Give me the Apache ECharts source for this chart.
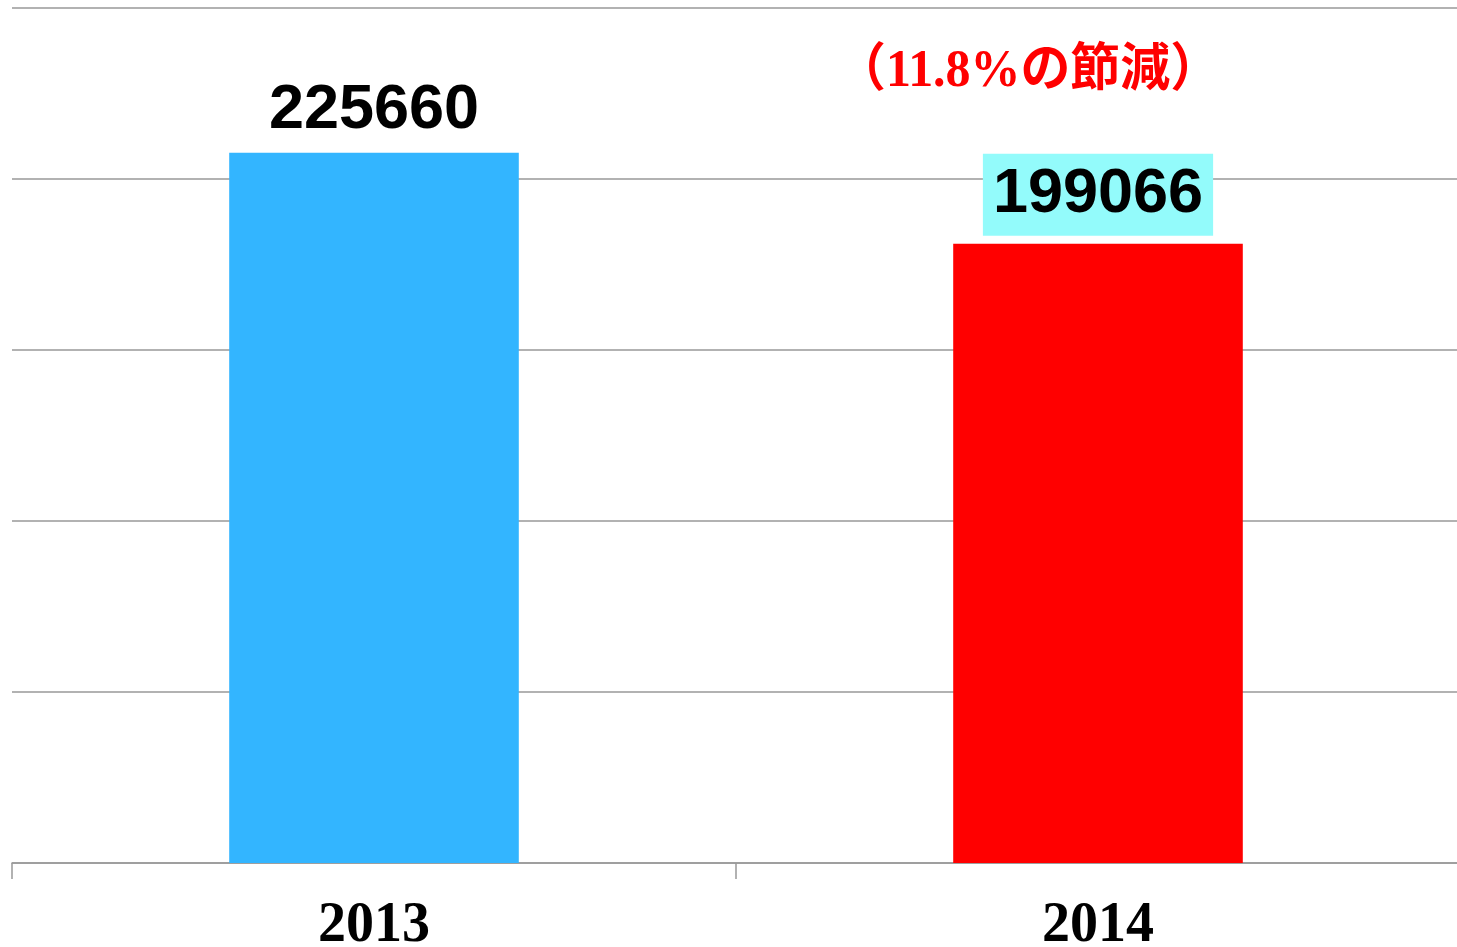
<!DOCTYPE html>
<html>
<head>
<meta charset="utf-8">
<script src="https://cdn.jsdelivr.net/npm/echarts@6/dist/echarts.min.js"></script>
<style>
    html, body { margin: 0; padding: 0; background: #fff; }
    #mychart { width: 1457px; height: 947px; }
</style>
</head>
<body>
<div id="mychart"></div>
<script>
    var years = ['2013', '2014']
    var totals = [225660, 199066]
    var barColors = ['#33b5ff', '#ff0000']
    var note = '（11.8%の節減）'

    var myChart = echarts.init(document.getElementById('mychart'))

    var option = {
        animation: false,
        grid: {
            left: 12,
            right: -3,
            top: 8,
            bottom: 84,
            containLabel: false,
            outerBoundsMode: 'none'
        },
        xAxis: {
            type: 'category',
            data: years,
            axisLine: {
                lineStyle: { color: '#999', width: 1.5 }
            },
            axisTick: {
                show: true,
                length: 16,
                lineStyle: { color: '#999', width: 1.5 }
            },
            axisLabel: {
                margin: 36,
                color: '#000',
                fontFamily: 'Liberation Serif',
                fontWeight: 'bold',
                fontSize: 56
            }
        },
        yAxis: {
            type: 'value',
            min: 18000,
            max: 268000,
            interval: 50000,
            axisLine: { show: false },
            axisTick: { show: false },
            axisLabel: { show: false },
            splitLine: {
                lineStyle: { color: '#999', width: 1.5 }
            }
        },
        graphic: [
            {
                type: 'text',
                x: 836,
                y: 47,
                scaleX: 0.96,
                style: {
                    text: note,
                    fill: '#ff0000',
                    font: 'bold 52px "Liberation Serif", "Noto Sans CJK JP"'
                }
            }
        ],
        series: [
            {
                type: 'bar',
                barWidth: '40%',
                data: totals.map(function (v, i) {
                    var item = {
                        value: v,
                        itemStyle: { color: barColors[i] }
                    }
                    if (i === 1) {
                        item.label = {
                            backgroundColor: '#93fbfb',
                            padding: [10, 10, 11, 10],
                            distance: 8
                        }
                    }
                    return item
                }),
                label: {
                    show: true,
                    position: 'top',
                    distance: 12,
                    color: '#000',
                    fontFamily: 'Liberation Sans',
                    fontWeight: 'bold',
                    fontSize: 63,
                    lineHeight: 61
                }
            }
        ]
    }

    myChart.setOption(option)
    window.addEventListener('resize', function () {
        myChart.resize()
    })
</script>
</body>
</html>
